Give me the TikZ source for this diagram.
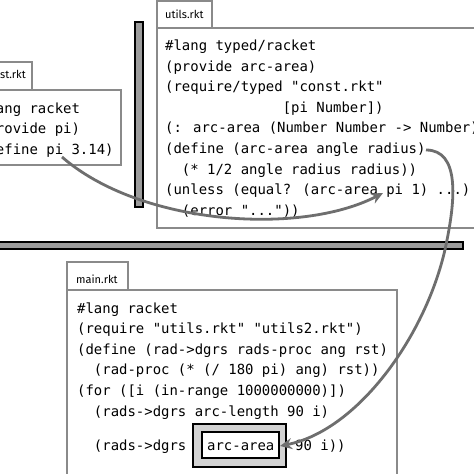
\documentclass[tikz,border=0pt]{standalone}
\usepackage{fontspec}
\newfontfamily\codefont{DejaVu Sans Mono}
\newfontfamily\tabfont{Fira Sans}
\usetikzlibrary{arrows.meta}
\definecolor{boxgray}{HTML}{8A8A8A}
\definecolor{bargray}{HTML}{9C9C9C}
\definecolor{arrowgray}{HTML}{6E6E6E}
\definecolor{hlgray}{HTML}{D2D2D2}
\tikzset{
  filebox/.style={draw=boxgray, line width=1.4pt, fill=white},
  bar/.style={draw=black, line width=1.4pt, fill=bargray},
  code/.style={anchor=base west, inner sep=0pt, font=\codefont\fontsize{13.95}{16}\selectfont},
  tablabel/.style={anchor=base west, inner sep=0pt, font=\tabfont\fontsize{11}{13}\selectfont},
  link/.style={draw=arrowgray, line width=2.8pt, -{Stealth[length=12pt,width=11pt]}},
  hlout/.style={draw=black, line width=1.5pt, fill=hlgray},
  hlin/.style={draw=black, line width=1.5pt, fill=white},
}
\begin{document}
\begin{tikzpicture}[x=1pt,y=-1pt]
\useasboundingbox (0,0) rectangle (474,474);
\clip (0,0) rectangle (474,474);
% utils.rkt
\draw[filebox] (157,1) rectangle (212,28);
\draw[filebox] (157,28) rectangle (490,228);
\node[tablabel] (utab) at (165,18.5) {utils.rkt};
% const.rkt
\draw[filebox] (-25,62) rectangle (32,90);
\draw[filebox] (-25,90) rectangle (121,165);
\node[tablabel, anchor=base east] (ctab) at (26,78.5) {const.rkt};
% main.rkt
\draw[filebox] (67,262) rectangle (128,290);
\draw[filebox] (67,290) rectangle (397,490);
\node[tablabel] (mtab) at (76,283) {main.rkt};
% bars
\draw[bar] (135,22) rectangle (143,207);
\draw[bar] (-5,242) rectangle (463,249);
% const.rkt code
\node[code] (c1) at (-21,113) {\#lang racket};
\node[code] (c2) at (-21,133.6) {(provide pi)};
\node[code] (c3) at (-21,154.2) {(define pi 3.14)};
% utils.rkt code
\node[code] (u1) at (165,50.5) {\#lang typed/racket};
\node[code] (u2) at (165,71.1) {(provide arc-area)};
\node[code] (u3) at (165,91.7) {(require/typed "const.rkt"};
\node[code] (u4) at (165,112.3) {\phantom{00000000000000}[pi Number])};
\node[code] (u5) at (165,132.9) {(: arc-area (Number Number -> Number))};
\node[code] (u6) at (165,153.5) {(define (arc-area angle radius)};
\node[code] (u7) at (165,174.1) {\phantom{00}(* 1/2 angle radius radius))};
\node[code] (u8) at (165,194.7) {(unless (equal? (arc-area pi 1) ...)};
\node[code] (u9) at (165,215.3) {\phantom{00}(error "..."))};
% main.rkt code
\node[code] (m1) at (77,313) {\#lang racket};
\node[code] (m2) at (77,333.6) {(require "utils.rkt" "utils2.rkt")};
\node[code] (m3) at (77,354.2) {(define (rad->dgrs rads-proc ang rst)};
\node[code] (m4) at (77,374.8) {\phantom{00}(rad-proc (* (/ 180 pi) ang) rst))};
\node[code] (m5) at (77,395.4) {(for ([i (in-range 1000000000)])};
\node[code] (m6) at (77,416) {\phantom{00}(rads->dgrs arc-length 90 i)};
% highlighted call
\draw[hlout] (193,424) rectangle (286,467);
\draw[hlin] (202,432) rectangle (279,458);
\node[code] (m7) at (77,450.5) {\phantom{00}(rads->dgrs};
\node[code] (m7b) at (207,450.5) {arc-area};
\node[code] (m7c) at (295,450.5) {90 i))};
% connector end points
\coordinate (pidef) at (62,157);
\coordinate (piuse) at (383,193);
\coordinate (areadef) at (426,150);
\coordinate (areamid) at (447,240);
\coordinate (areause) at (280,446);
% connectors
\draw[link] (pidef) .. controls (140,225) and (300,236) .. (piuse);
\draw[link] (areadef) .. controls (460,150) and (455,200) .. (areamid)
  .. controls (430,330) and (360,430) .. (areause);
\end{tikzpicture}
\end{document}
